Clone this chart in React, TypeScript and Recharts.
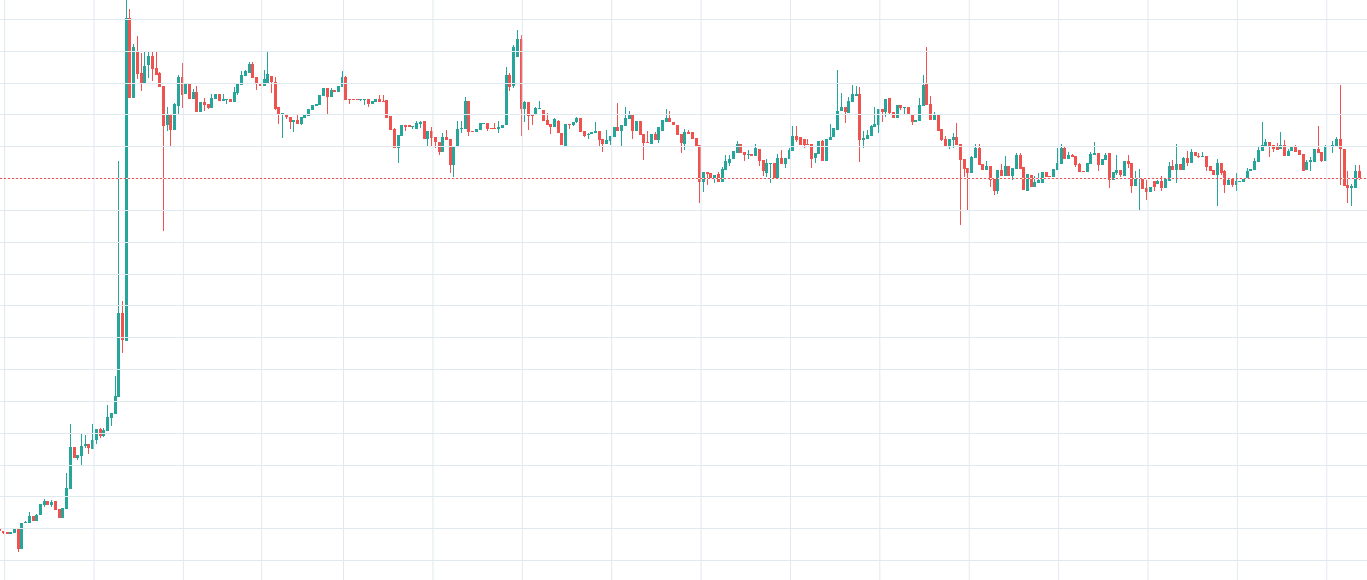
import React from 'react';
import { ComposedChart, Bar, XAxis, YAxis, ReferenceLine } from 'recharts';

// hourly candles, first bar is cut by the left edge
const FIRST_BAR = -1;

const OPEN = [
  51, 49, 48, 46, 47, 51, 31, 57, 57, 64,
  59, 65, 75, 79, 75, 79, 71, 62, 71, 91,
  133, 122, 124, 134, 136, 131, 140, 151, 144, 149,
  162, 166, 183, 267, 239, 562, 482, 529, 507, 496,
  515, 524, 512, 507, 494, 455, 465, 450, 474, 503,
  486, 497, 481, 488, 468, 478, 476, 472, 481, 486,
  479, 480, 481, 478, 487, 495, 504, 507, 516, 503,
  497, 494, 497, 504, 498, 473, 465, 466, 463, 458,
  460, 456, 462, 464, 470, 474, 475, 484, 492, 483,
  490, 488, 493, 503, 481, 481, 481, 480, 480, 481,
  476, 478, 481, 479, 480, 464, 451, 432, 444, 455,
  455, 453, 451, 456, 459, 441, 449, 443, 438, 428,
  443, 441, 415, 433, 451, 451, 479, 449, 448, 450,
  456, 457, 452, 452, 451, 452, 455, 505, 494, 523,
  541, 471, 478, 466, 465, 471, 470, 460, 456, 453,
  459, 447, 434, 456, 455, 458, 462, 449, 445, 446,
  447, 449, 441, 436, 439, 443, 453, 449, 454, 461,
  465, 449, 459, 446, 438, 436, 446, 440, 449, 458,
  462, 458, 455, 446, 436, 448, 448, 442, 435, 398,
  408, 407, 402, 406, 398, 410, 417, 421, 427, 436,
  428, 425, 426, 424, 431, 420, 407, 416, 417, 401,
  422, 416, 421, 429, 444, 443, 441, 436, 436, 422,
  426, 439, 419, 440, 443, 450, 469, 473, 467, 478,
  484, 486, 440, 441, 444, 453, 455, 471, 468, 482,
  468, 462, 475, 472, 473, 466, 458, 459, 474, 496,
  476, 460, 465, 451, 441, 433, 440, 443, 436, 421,
  412, 407, 422, 432, 416, 410, 414, 401, 389, 410,
  404, 414, 404, 411, 425, 413, 389, 405, 393, 397,
  397, 408, 404, 403, 410, 416, 432, 421, 425, 424,
  416, 409, 408, 416, 425, 427, 415, 420, 427, 400,
  407, 410, 404, 419, 417, 394, 401, 402, 392, 388,
  399, 396, 399, 392, 399, 414, 410, 416, 410, 422,
  417, 428, 424, 423, 424, 414, 410, 405, 417, 409,
  395, 401, 395, 398, 398, 401, 409, 410, 418, 429,
  434, 438, 435, 433, 431, 435, 424, 429, 434, 430,
  426, 410, 418, 418, 431, 428, 419, 433, 433, 434,
  441, 431, 395, 392, 392, 409,
];

const HIGH = [
  51, 49, 48, 48, 51, 51, 57, 59, 68, 64,
  66, 76, 81, 79, 80, 79, 71, 72, 107, 156,
  133, 125, 147, 145, 136, 156, 151, 152, 152, 175,
  167, 204, 419, 279, 580, 571, 536, 544, 527, 528,
  528, 528, 528, 508, 494, 473, 465, 477, 505, 517,
  497, 497, 491, 494, 478, 482, 476, 486, 486, 486,
  486, 481, 481, 493, 496, 509, 510, 518, 518, 503,
  497, 510, 529, 504, 503, 473, 467, 466, 463, 460,
  465, 463, 465, 471, 475, 476, 485, 492, 492, 492,
  490, 494, 509, 504, 481, 481, 481, 481, 481, 481,
  479, 481, 485, 485, 480, 464, 452, 445, 455, 455,
  455, 454, 459, 459, 459, 449, 453, 443, 438, 447,
  450, 441, 434, 459, 459, 483, 479, 449, 451, 457,
  457, 457, 452, 457, 459, 455, 513, 507, 535, 550,
  545, 479, 478, 466, 473, 479, 470, 467, 456, 462,
  460, 447, 456, 456, 458, 463, 462, 449, 447, 448,
  458, 449, 441, 450, 444, 453, 477, 455, 473, 469,
  465, 459, 459, 446, 449, 446, 448, 453, 460, 471,
  469, 458, 455, 446, 451, 450, 448, 442, 435, 408,
  408, 407, 405, 408, 413, 425, 425, 429, 439, 436,
  428, 430, 426, 436, 431, 420, 421, 417, 417, 426,
  430, 422, 432, 454, 454, 443, 441, 441, 436, 427,
  439, 440, 441, 456, 452, 510, 487, 473, 483, 495,
  494, 493, 449, 450, 455, 473, 471, 471, 481, 482,
  468, 475, 475, 473, 473, 466, 460, 482, 505, 533,
  484, 468, 465, 451, 444, 441, 447, 457, 436, 421,
  412, 424, 436, 436, 416, 419, 414, 401, 410, 416,
  424, 414, 412, 427, 427, 413, 406, 405, 404, 407,
  408, 408, 404, 411, 432, 436, 433, 428, 426, 424,
  417, 409, 417, 428, 438, 427, 421, 427, 427, 408,
  425, 410, 419, 425, 417, 409, 411, 402, 400, 393,
  399, 400, 404, 401, 418, 420, 436, 416, 423, 429,
  431, 428, 427, 428, 424, 414, 410, 421, 417, 410,
  402, 401, 407, 399, 402, 412, 411, 422, 434, 458,
  441, 438, 435, 437, 448, 440, 431, 434, 435, 430,
  426, 420, 423, 431, 454, 428, 435, 434, 439, 443,
  495, 431, 409, 396, 415, 415,
];

const LOW = [
  49, 46, 46, 46, 47, 28, 31, 57, 57, 59,
  59, 65, 73, 75, 73, 70, 62, 62, 71, 91,
  122, 120, 114, 132, 126, 131, 136, 142, 143, 149,
  154, 166, 183, 227, 239, 482, 482, 501, 489, 496,
  502, 499, 505, 493, 349, 449, 433, 450, 465, 472,
  486, 481, 481, 468, 468, 469, 471, 472, 481, 479,
  479, 476, 478, 478, 485, 495, 504, 507, 502, 490,
  494, 494, 497, 487, 470, 456, 442, 461, 451, 448,
  456, 455, 462, 464, 470, 474, 475, 484, 466, 483,
  488, 488, 493, 480, 476, 480, 480, 479, 475, 473,
  476, 478, 478, 478, 462, 450, 432, 417, 444, 449,
  453, 451, 451, 452, 441, 433, 433, 432, 425, 428,
  440, 407, 403, 433, 447, 451, 444, 448, 448, 450,
  456, 449, 451, 451, 447, 452, 455, 489, 492, 523,
  444, 458, 450, 455, 465, 471, 459, 455, 446, 453,
  447, 435, 433, 451, 454, 457, 448, 443, 441, 446,
  447, 433, 428, 436, 435, 443, 449, 434, 454, 461,
  441, 449, 445, 420, 437, 436, 440, 437, 449, 458,
  458, 455, 445, 427, 430, 446, 441, 433, 377, 388,
  395, 402, 397, 398, 398, 410, 414, 421, 427, 427,
  419, 421, 424, 424, 414, 404, 403, 397, 401, 401,
  416, 412, 421, 429, 438, 435, 432, 435, 412, 417,
  426, 419, 419, 440, 443, 450, 469, 457, 467, 478,
  484, 418, 432, 441, 444, 453, 447, 458, 463, 465,
  462, 462, 470, 466, 465, 455, 458, 459, 474, 475,
  460, 460, 449, 439, 433, 431, 432, 435, 355, 403,
  369, 407, 422, 415, 410, 410, 393, 385, 386, 404,
  404, 404, 400, 411, 411, 390, 389, 393, 393, 397,
  397, 403, 403, 403, 410, 416, 421, 421, 423, 413,
  408, 408, 408, 416, 425, 409, 415, 420, 392, 400,
  405, 403, 404, 412, 387, 394, 370, 391, 380, 388,
  389, 396, 389, 392, 399, 410, 397, 410, 410, 414,
  417, 424, 422, 423, 409, 409, 405, 374, 405, 387,
  395, 393, 389, 398, 398, 401, 409, 410, 418, 429,
  433, 423, 428, 430, 431, 424, 424, 429, 428, 425,
  409, 410, 409, 418, 427, 418, 419, 433, 427, 434,
  395, 394, 377, 374, 392, 400,
];

const CLOSE = [
  49, 47, 46, 48, 51, 31, 57, 58, 64, 59,
  65, 76, 79, 75, 78, 70, 62, 72, 92, 133,
  122, 125, 134, 136, 132, 140, 151, 144, 150, 163,
  167, 184, 267, 240, 562, 482, 533, 506, 496, 514,
  524, 511, 505, 493, 454, 465, 450, 476, 503, 485,
  497, 481, 488, 468, 478, 475, 472, 482, 486, 479,
  481, 481, 478, 488, 496, 505, 509, 516, 502, 496,
  494, 501, 506, 498, 471, 466, 467, 463, 458, 460,
  456, 463, 465, 471, 475, 476, 485, 492, 483, 490,
  488, 494, 503, 480, 480, 480, 480, 481, 481, 476,
  479, 481, 478, 478, 462, 450, 432, 445, 455, 453,
  453, 454, 457, 458, 441, 449, 442, 438, 428, 443,
  440, 415, 434, 451, 452, 479, 448, 448, 451, 457,
  457, 451, 451, 451, 453, 455, 505, 493, 533, 541,
  471, 478, 464, 464, 472, 472, 459, 455, 453, 461,
  447, 435, 456, 455, 458, 462, 448, 444, 446, 448,
  449, 440, 436, 440, 444, 453, 449, 455, 462, 465,
  449, 459, 445, 437, 437, 446, 440, 453, 460, 462,
  458, 455, 445, 437, 448, 446, 441, 434, 398, 408,
  406, 402, 405, 398, 411, 419, 421, 429, 436, 427,
  425, 426, 424, 432, 419, 409, 417, 417, 401, 422,
  416, 422, 430, 444, 440, 435, 435, 435, 421, 427,
  439, 419, 441, 443, 452, 469, 473, 468, 479, 486,
  486, 440, 442, 445, 454, 456, 471, 468, 481, 467,
  462, 475, 472, 473, 465, 458, 460, 475, 495, 475,
  460, 465, 449, 440, 433, 441, 443, 435, 420, 411,
  407, 423, 432, 415, 410, 414, 400, 389, 410, 404,
  414, 404, 412, 425, 411, 390, 406, 393, 398, 400,
  408, 403, 403, 411, 417, 432, 421, 425, 423, 415,
  408, 408, 417, 426, 427, 415, 421, 425, 400, 408,
  410, 405, 419, 416, 394, 402, 402, 391, 388, 393,
  393, 399, 392, 401, 414, 410, 416, 410, 422, 417,
  428, 424, 423, 424, 413, 409, 405, 417, 407, 395,
  400, 395, 399, 399, 402, 409, 411, 419, 430, 435,
  438, 434, 431, 430, 435, 424, 429, 434, 428, 425,
  409, 418, 420, 431, 427, 419, 434, 434, 435, 441,
  431, 394, 392, 394, 409, 401.5,
];

// price levels of the horizontal grid
const PRICE_GRID = [
  19.5, 51.5, 83.5, 114.5, 146.5, 178.5, 210.5, 242.5, 274.5,
  305.5, 337.5, 369.5, 401.5, 433.5, 465.5, 496.5, 528.5, 560.5,
];

// session boundaries (bar index) for the vertical grid
const TIME_GRID = [
  0.25, 24.25, 48.25, 69.25, 91.25, 115.25, 139.25, 163.25,
  187.25, 211.25, 235.25, 259.25, 283.25, 307.25, 331.25, 355.25,
];

const UP = '#26a69a';
const DOWN = '#ef5350';
const GRID = '#e1e9f0';

const data = OPEN.map((open, i) => ({
  t: i + FIRST_BAR,
  open,
  high: HIGH[i],
  low: LOW[i],
  close: CLOSE[i],
  range: [LOW[i], HIGH[i]],
}));

const lastClose = CLOSE[CLOSE.length - 1];

const Candle = (props: any) => {
  const { x, y, width, height, payload } = props;
  if (x == null || y == null || !payload) return null;
  const { open, close, high, low } = payload;
  const color = close >= open ? UP : DOWN;
  const k = high > low ? height / (high - low) : 0;
  const cx = x + width / 2;
  const top = y + (high - Math.max(open, close)) * k;
  const bottom = y + (high - Math.min(open, close)) * k;
  const bodyTop = Math.round(top);
  const bodyH = Math.max(1, Math.round(bottom) - bodyTop);
  const wx = Math.round(cx - 0.5);
  const wTop = Math.round(y);
  const wH = Math.max(1, Math.round(y + height) - wTop);
  return (
    <g>
      <rect x={wx} y={wTop} width={1} height={wH} fill={color} />
      <rect x={wx - 1} y={bodyTop} width={3} height={bodyH} fill={color} />
    </g>
  );
};

export default function App() {
  return (
    <div style={{ width: 1367, height: 580, background: '#ffffff' }}>
      <style>{'body { margin: 0; }'}</style>
      <ComposedChart
        width={1367}
        height={580}
        data={data}
        margin={{ top: 0, right: 0, bottom: 0, left: 0 }}
      >
        <XAxis
          type="number"
          dataKey="t"
          domain={[-0.985, 366.05]}
          allowDataOverflow
          hide
        />
        <YAxis type="number" domain={[0, 580]} allowDataOverflow hide />
        {PRICE_GRID.map((v) => (
          <ReferenceLine key={`h${v}`} y={v} stroke={GRID} strokeWidth={1} />
        ))}
        {TIME_GRID.map((t) => (
          <ReferenceLine key={`v${t}`} x={t} stroke={GRID} strokeWidth={1} />
        ))}
        <Bar dataKey="range" shape={<Candle />} barSize={3} isAnimationActive={false} />
        <ReferenceLine y={lastClose} stroke={DOWN} strokeDasharray="2 2" />
      </ComposedChart>
    </div>
  );
}
